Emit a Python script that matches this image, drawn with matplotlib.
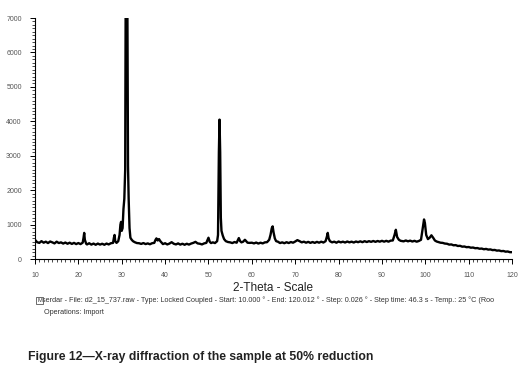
import matplotlib.pyplot as plt
from matplotlib.ticker import MultipleLocator

plt.rcParams['font.family'] = ['Liberation Sans', 'DejaVu Sans']

# 2-theta (deg) / counts, clustered around the peaks
two_theta_low = [10.0, 10.5, 11.0, 11.5, 12.0, 12.5, 13.0, 13.5, 14.0, 14.5, 15.0, 15.5, 16.0, 16.5,
                 17.0, 17.5, 18.0, 18.5, 19.0, 19.5, 20.0, 20.5, 21.0, 21.2, 21.35, 21.5, 21.8, 22.0,
                 22.5, 23.0, 23.5, 24.0, 24.5, 25.0, 25.5, 26.0, 26.5, 27.0, 27.5, 28.0, 28.2, 28.35,
                 28.5, 28.8, 29.2, 29.5, 29.7, 29.85, 30.0, 30.2, 30.4, 30.6, 30.8, 30.9, 31.0, 31.1,
                 31.2, 31.3, 31.45, 31.6, 31.8, 32.0, 32.3, 32.6, 33.0, 33.5, 34.0, 34.5, 35.0, 35.5,
                 36.0, 36.5, 37.0, 37.5, 37.8, 38.0, 38.3, 38.6, 38.9, 39.3, 39.5, 40.0, 40.5, 41.0,
                 41.5, 42.0, 42.5, 43.0, 43.5, 44.0, 44.5, 45.0, 45.5, 46.0, 46.5, 47.0, 47.5, 48.0,
                 48.5, 49.0, 49.5, 49.8, 50.0, 50.3, 50.6, 51.0, 51.5]
counts_low = [560, 490, 470, 520, 475, 505, 465, 510, 485, 455, 505, 465, 485, 450,
              480, 445, 475, 440, 470, 435, 465, 435, 475, 620, 760, 560, 445, 425,
              460, 420, 450, 415, 450, 420, 445, 415, 450, 425, 460, 470, 620, 700,
              520, 470, 520, 700, 1000, 1080, 820, 900, 1450, 1750, 2600, 7500, 8000, 5000,
              8000, 7500, 2700, 1750, 900, 620, 560, 520, 490, 465, 460, 440, 465, 435,
              455, 430, 460, 470, 560, 600, 540, 580, 520, 460, 435, 460, 425, 450,
              490, 445, 425, 455, 420, 445, 415, 445, 420, 450, 470, 500, 455, 445,
              425, 455, 470, 560, 620, 500, 465, 485, 465]

two_theta_mid = [52.0, 52.2, 52.4, 52.55, 52.7, 52.85, 53.0, 53.3, 53.6, 54.0, 54.5, 55.0, 55.5,
                 56.0, 56.5, 56.8, 57.0, 57.3, 57.6, 58.0, 58.4, 58.7, 59.0, 59.5, 60.0, 60.5,
                 61.0, 61.5, 62.0, 62.5, 63.0, 63.5, 64.0, 64.3, 64.6, 64.8, 65.0, 65.3, 65.6,
                 66.0, 66.5, 67.0, 67.5, 68.0, 68.5, 69.0, 69.5, 70.0, 70.5, 71.0, 71.5, 72.0,
                 72.5, 73.0, 73.5, 74.0, 74.5, 75.0, 75.5, 76.0, 76.5, 77.0, 77.3, 77.5, 77.7,
                 78.0, 78.5, 79.0, 79.5, 80.0, 80.5, 81.0, 81.5, 82.0, 82.5, 83.0, 83.5, 84.0,
                 84.5, 85.0, 85.5, 86.0, 86.5, 87.0, 87.5, 88.0, 88.5, 89.0, 89.5]
counts_mid = [520, 700, 3100, 4050, 3100, 1200, 820, 680, 580, 520, 495, 485, 465,
              495, 475, 560, 610, 520, 485, 505, 560, 520, 475, 470, 475, 455,
              480, 450, 475, 455, 485, 490, 560, 700, 900, 950, 780, 600, 520,
              505, 465, 485, 460, 490, 465, 495, 475, 510, 550, 520, 485, 505,
              475, 500, 470, 495, 470, 500, 475, 505, 480, 520, 650, 760, 600,
              520, 485, 505, 475, 510, 485, 505, 480, 510, 485, 505, 480, 510,
              490, 515, 490, 520, 495, 520, 500, 525, 500, 525, 505]

two_theta_high = [90.0, 90.5, 91.0, 91.5, 92.0, 92.5, 92.9, 93.2, 93.5, 93.9, 94.3, 95.0, 95.5,
                  96.0, 96.5, 97.0, 97.5, 98.0, 98.5, 99.0, 99.4, 99.7, 99.9, 100.2, 100.6, 101.0,
                  101.4, 101.8, 102.2, 102.6, 103.0, 103.5, 104.0, 104.5, 105.0, 105.5, 106.0,
                  106.5, 107.0, 107.5, 108.0, 108.5, 109.0, 109.5, 110.0, 110.5, 111.0, 111.5,
                  112.0, 112.5, 113.0, 113.5, 114.0, 114.5, 115.0, 115.5, 116.0, 116.5, 117.0,
                  117.5, 118.0, 118.5, 119.0, 119.5, 120.0]
counts_high = [530, 505, 530, 505, 535, 540, 700, 850, 640, 560, 530, 515, 540,
               515, 535, 510, 530, 505, 525, 560, 900, 1150, 1050, 700, 580, 620,
               690, 620, 540, 510, 495, 475, 470, 450, 445, 420, 425,
               400, 405, 380, 385, 360, 365, 345, 350, 330, 335, 315,
               320, 300, 305, 285, 295, 275, 280, 260, 265, 245, 250,
               230, 235, 215, 220, 200, 200]

two_theta = two_theta_low + two_theta_mid + two_theta_high
counts = counts_low + counts_mid + counts_high

fig = plt.figure(figsize=(5.22, 3.76), dpi=100)
ax = fig.add_axes([0.067, 0.311, 0.914, 0.641])
ax.plot(two_theta, counts, color='black', linewidth=1.7)

ax.set_xlim(10, 120)
ax.set_ylim(0, 7000)
for s in ['top', 'right']:
    ax.spines[s].set_visible(False)
for s in ['left', 'bottom']:
    ax.spines[s].set_linewidth(0.8)

ax.xaxis.set_major_locator(MultipleLocator(10))
ax.xaxis.set_minor_locator(MultipleLocator(1))
ax.yaxis.set_major_locator(MultipleLocator(1000))
ax.yaxis.set_minor_locator(MultipleLocator(100))
ax.tick_params(which='major', length=3.5, width=0.7, labelsize=5, labelcolor='#555555', pad=6)
ax.tick_params(which='minor', length=2, width=0.5)

fig.text(0.523, 0.233, '2-Theta - Scale', fontsize=8.5, ha='center', va='center', color='#222222')
fig.text(0.081, 0.201,
         'serdar - File: d2_15_737.raw - Type: Locked Coupled - Start: 10.000 \u00b0 - End: 120.012 \u00b0'
         ' - Step: 0.026 \u00b0 - Step time: 46.3 s - Temp.: 25 \u00b0C (Roo',
         fontsize=5.2, ha='left', va='center', color='#333333')
fig.text(0.071, 0.201, 'M', fontsize=4.2, ha='left', va='center', color='#333333',
         bbox=dict(boxstyle='square,pad=0.15', fc='white', ec='#333333', lw=0.5))
fig.text(0.085, 0.170, 'Operations: Import', fontsize=5.2, ha='left', va='center', color='#333333')

fig.text(0.054, 0.050, 'Figure 12\u2014X-ray diffraction of the sample at 50% reduction',
         fontsize=8.8, fontweight='bold', ha='left', va='center', color='#222222')

fig.savefig('out.png', dpi=100)
